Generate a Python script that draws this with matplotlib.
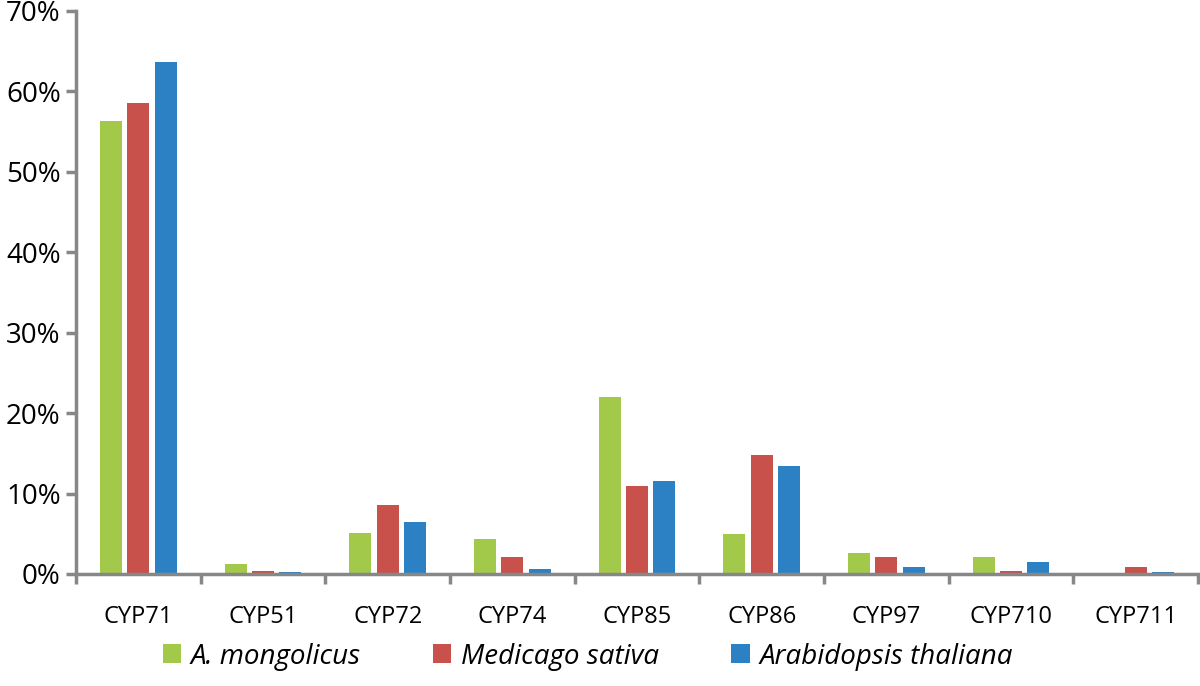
import matplotlib.pyplot as plt
import numpy as np
from matplotlib.ticker import FixedLocator, PercentFormatter

# 各 CYP 家族所占比例（%）
families = ["CYP71", "CYP51", "CYP72", "CYP74", "CYP85", "CYP86", "CYP97", "CYP710", "CYP711"]
a_mongolicus = [56.3, 1.3, 5.1, 4.3, 22.0, 5.0, 2.6, 2.1, 0.0]
medicago_sativa = [58.5, 0.4, 8.6, 2.1, 10.9, 14.8, 2.1, 0.4, 0.9]
arabidopsis = [63.6, 0.25, 6.4, 0.6, 11.6, 13.4, 0.9, 1.45, 0.25]

series_names = ["A. mongolicus", "Medicago sativa", "Arabidopsis thaliana"]
colors = ["#A2C94A", "#C9514B", "#2C81C4"]
axis_gray = "#878787"

plt.rcParams["font.family"] = ["Open Sans", "DejaVu Sans"]

fig = plt.figure(figsize=(12, 6.86), dpi=100)
ax = fig.add_axes([0.0633, 0.1633, 0.935, 0.821])

x = np.arange(len(families))
step = 0.22
width = 0.177
for i, (vals, name, col) in enumerate(zip([a_mongolicus, medicago_sativa, arabidopsis], series_names, colors)):
    ax.bar(x + (i - 1) * step, vals, width=width, color=col, label=name, zorder=2)

ax.set_xlim(-0.5, len(families) - 0.5)
ax.set_ylim(0, 70)
ax.yaxis.set_major_locator(FixedLocator(np.arange(0, 71, 10)))
ax.yaxis.set_major_formatter(PercentFormatter(decimals=0))

# x 轴刻度放在类别之间，标签放在类别中间
ax.set_xticks(np.arange(-0.5, len(families), 1.0))
ax.set_xticklabels([])
ax.set_xticks(x, minor=True)
ax.set_xticklabels(families, minor=True)
ax.tick_params(axis="x", which="minor", length=0, pad=22, labelsize=17)
ax.tick_params(axis="x", which="major", direction="out", length=7, width=2.5, color=axis_gray)
ax.tick_params(axis="y", direction="out", length=7, width=2.5, color=axis_gray, labelsize=20, pad=4)

for side in ["top", "right"]:
    ax.spines[side].set_visible(False)
for side in ["left", "bottom"]:
    ax.spines[side].set_color(axis_gray)
    ax.spines[side].set_linewidth(2.5)

leg = fig.legend(
    loc="center",
    bbox_to_anchor=(0.49, 0.043),
    ncol=3,
    frameon=False,
    handlelength=0.65,
    handleheight=0.65,
    handletextpad=0.35,
    columnspacing=2.6,
    prop={"size": 20, "style": "italic"},
)

fig.savefig("out.png", dpi=100)
